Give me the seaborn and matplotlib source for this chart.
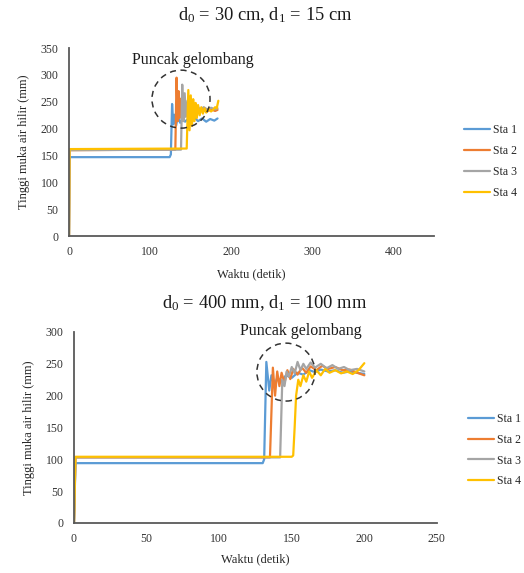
import numpy as np
import pandas as pd
import matplotlib
matplotlib.use("Agg")
import matplotlib.pyplot as plt
from matplotlib.patches import Ellipse
import seaborn as sns

# ---- Run 1: d0 = 30 cm, d1 = 15 cm ----
t1_sta1 = [0, 0.6, 124, 125.5, 127, 128.5, 130, 132, 134, 137, 140, 143, 147, 151, 155, 159, 164, 169, 174, 179, 183]
h1_sta1 = [0, 147, 147, 152, 246, 208, 226, 206, 222, 211, 220, 213, 219, 212, 220, 214, 219, 213, 218, 215, 219]

t1_sta2 = [0, 0.6, 131, 132.5, 134, 135, 136.5, 138, 140, 142, 145, 148, 152, 156, 160, 165, 170, 175, 180, 183]
h1_sta2 = [0, 160, 161, 295, 214, 270, 220, 256, 224, 246, 228, 240, 231, 238, 230, 236, 232, 236, 233, 235]

t1_sta3 = [0, 0.6, 138, 139.5, 141, 142.5, 144, 146, 148, 151, 154, 158, 162, 166, 170, 175, 180, 183]
h1_sta3 = [0, 160, 161, 282, 214, 266, 222, 252, 228, 245, 232, 242, 235, 240, 236, 239, 236, 238]

t1_sta4 = [0, 0.6, 145, 147, 148.5, 150, 151.5, 153, 154.5, 156, 157.5, 159, 161, 163, 165, 167, 169, 172, 175, 178, 180, 182, 184]
h1_sta4 = [0, 162, 163, 272, 197, 262, 205, 255, 214, 248, 220, 244, 225, 240, 228, 238, 230, 237, 232, 236, 240, 238, 252]

# ---- Run 2: d0 = 400 mm, d1 = 100 mm ----
t2_sta1 = [0, 1, 130, 131, 132.5, 134.5, 136, 138, 140, 143, 146, 150, 154, 158, 162, 166, 170, 175, 180, 185, 190, 195, 200]
h2_sta1 = [0, 94, 94, 100, 253, 208, 232, 215, 228, 222, 232, 228, 236, 233, 240, 237, 241, 238, 240, 236, 238, 236, 234]

t2_sta2 = [0, 1, 135, 137, 138.5, 140, 141.5, 143, 145, 147, 149, 151, 154, 157, 160, 163, 167, 171, 175, 180, 185, 190, 195, 200]
h2_sta2 = [0, 103, 103, 244, 200, 238, 215, 236, 220, 240, 226, 242, 233, 244, 236, 246, 240, 247, 242, 245, 240, 241, 236, 232]

t2_sta3 = [0, 1, 142, 143.5, 145, 146.5, 148, 150, 152, 154, 156, 158, 160, 163, 166, 170, 174, 178, 182, 186, 190, 195, 200]
h2_sta3 = [0, 103, 103, 225, 215, 238, 230, 245, 235, 253, 240, 250, 242, 252, 244, 250, 243, 248, 242, 245, 240, 242, 238]

t2_sta4 = [0, 1, 150, 151, 152, 153, 154.5, 156, 158, 160, 162, 164, 167, 170, 173, 176, 180, 184, 188, 192, 196, 200]
h2_sta4 = [0, 104, 104, 106, 150, 200, 225, 215, 232, 222, 238, 228, 240, 232, 242, 236, 240, 235, 238, 234, 240, 251]

stations = ["Sta 1", "Sta 2", "Sta 3", "Sta 4"]
colors = ["#5B9BD5", "#ED7D31", "#A5A5A5", "#FFC000"]


def long_frame(ts, hs):
    parts = []
    for name, t, h in zip(stations, ts, hs):
        parts.append(pd.DataFrame({"Waktu": t, "Tinggi": h, "Stasiun": name}))
    return pd.concat(parts, ignore_index=True)


df1 = long_frame([t1_sta1, t1_sta2, t1_sta3, t1_sta4], [h1_sta1, h1_sta2, h1_sta3, h1_sta4])
df2 = long_frame([t2_sta1, t2_sta2, t2_sta3, t2_sta4], [h2_sta1, h2_sta2, h2_sta3, h2_sta4])

sns.set_theme(style="white")
plt.rcParams["font.family"] = ["Liberation Serif", "DejaVu Serif"]
plt.rcParams["mathtext.fontset"] = "custom"
plt.rcParams["mathtext.rm"] = "Liberation Serif"
plt.rcParams["mathtext.it"] = "Liberation Serif"

fig = plt.figure(figsize=(5.24, 5.73), dpi=100)
ax1 = fig.add_axes([0.1317, 0.588, 0.697, 0.328])
ax2 = fig.add_axes([0.1412, 0.0873, 0.6926, 0.3333])

palette = dict(zip(stations, colors))


def draw(ax, df, xlim, ylim, xticks, yticks, title, title_x, title_pad,
         xlabelpad, circle, note_xy, legend_xy):
    sns.lineplot(data=df, x="Waktu", y="Tinggi", hue="Stasiun", palette=palette,
                 estimator=None, sort=False, linewidth=1.6, ax=ax)
    ax.set_xlim(*xlim)
    ax.set_ylim(*ylim)
    ax.set_xticks(xticks)
    ax.set_yticks(yticks)
    ax.set_xlabel("Waktu (detik)", fontsize=9, color="#262626", labelpad=xlabelpad)
    ax.set_ylabel("Tinggi muka air hilir (mm)", fontsize=9, color="#262626", labelpad=8)
    ax.set_title(title, fontsize=13.3, color="#1a1a1a", pad=title_pad, x=title_x)
    for s in ("top", "right"):
        ax.spines[s].set_visible(False)
    for s in ("left", "bottom"):
        ax.spines[s].set_color("#595959")
        ax.spines[s].set_linewidth(1.3)
    ax.tick_params(axis="both", direction="inout", length=3, width=1,
                   color="#404040", labelsize=8.5, labelcolor="#333333", pad=6)
    cx, cy, w, h = circle
    ax.add_patch(Ellipse((cx, cy), w, h, fill=False, linestyle=(0, (4, 3)),
                         edgecolor="#333333", linewidth=1.1, zorder=5))
    ax.text(note_xy[0], note_xy[1], "Puncak gelombang", fontsize=11.5,
            color="#1a1a1a", ha="center", va="center")
    handles, labels = ax.get_legend_handles_labels()
    ax.legend(handles, labels, loc="upper left", bbox_to_anchor=legend_xy,
              bbox_transform=fig.transFigure, frameon=False, fontsize=8.5,
              handlelength=2.2, handletextpad=0.25, labelspacing=0.75)


draw(ax1, df1, (0, 450), (0, 350), [0, 100, 200, 300, 400],
     [0, 50, 100, 150, 200, 250, 300, 350],
     "d$_0$ = 30 cm, d$_1$ = 15 cm", 0.537, 20, 7,
     (138, 255, 71.5, 108), (153, 328), (0.8655, 0.802))
draw(ax2, df2, (0, 250), (0, 300), [0, 50, 100, 150, 200, 250],
     [0, 50, 100, 150, 200, 250, 300],
     "d$_0$ = 400 mm, d$_1$ = 100 mm", 0.526, 17, 6,
     (146, 237, 40, 91), (156, 302), (0.873, 0.298))

fig.savefig("out.png", dpi=100)
